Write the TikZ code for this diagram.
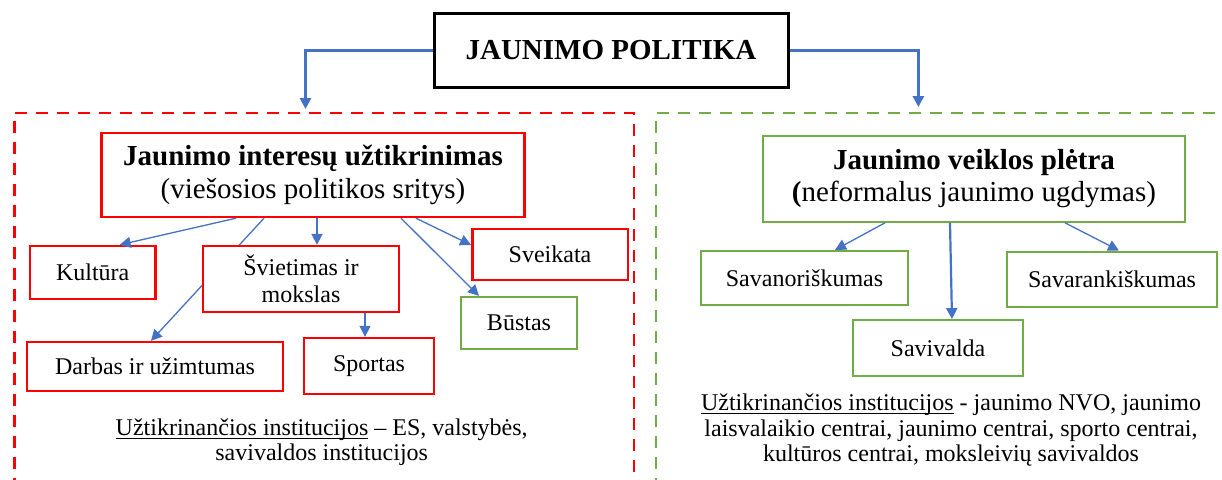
\documentclass[tikz,border=0pt]{standalone}
\usepackage{fontspec}
\setmainfont{Liberation Serif}
\usetikzlibrary{arrows.meta}
\definecolor{PolicyRed}{HTML}{FF0000}
\definecolor{PolicyGreen}{HTML}{70AD47}
\definecolor{PolicyBlue}{HTML}{4472C4}
\newcommand\instline[1]{\setbox0\hbox{#1}\rlap{\rule[-1.6pt]{\wd0}{.45pt}}\box0\relax}

\begin{document}
\begin{tikzpicture}[x=.5pt,y=-.5pt,
  redbox/.style={draw=PolicyRed,line width=1.2pt,fill=white,align=center,inner sep=0pt,font=\fontsize{12}{13.25}\selectfont},
  greenbox/.style={redbox,draw=PolicyGreen,line width=1.1pt},
  headfont/.style={font=\fontsize{14.5}{16.5}\selectfont},
  link/.style={PolicyBlue,line width=.65pt,-{Triangle[length=5.5pt,width=5.5pt]}},
  biglink/.style={link,line width=1.1pt},
  frame/.style={line width=1.2pt,dash pattern=on 6pt off 4.5pt}]
  \useasboundingbox (0,0) rectangle (1222,479);
  \node[draw,line width=1.5pt,minimum width=177pt,minimum height=37pt,font=\fontsize{14.5}{16}\selectfont\bfseries] (title) at (611,50) {JAUNIMO POLITIKA};
  \draw[frame,PolicyRed] (14.5,490)--(14.5,112.7)--(634,112.7)--(634,490);
  \draw[frame,PolicyGreen,line width=1.1pt] (655.6,490)--(655.6,113)--(1230,113);
  \coordinate (lefttip) at (305.5,109); \coordinate (righttip) at (918.4,107);
  \draw[biglink,line width=1.5pt] (title.west) -| (lefttip); \draw[biglink,line width=1.5pt] (title.east) -| (righttip);
  \node[redbox,headfont,minimum width=211.5pt,minimum height=42pt] (interests) at (313,175) {\textbf{Jaunimo interesų užtikrinimas}\\(viešosios politikos sritys)};
  \node[redbox,minimum width=128pt,minimum height=24.5pt] (work) at (155,366.5) {Darbas ir užimtumas};
  \draw[link] ([xshift=-24.5pt]interests.south) -- ([xshift=-2pt]work.north);
  \node[redbox,minimum width=98pt,minimum height=33pt] (education) at (301,279) {Švietimas ir\\mokslas};
  \node[redbox,minimum width=62.75pt,minimum height=26.5pt] (culture) at (92.7,272.5) {Kultūra};
  \node[redbox,minimum width=65.25pt,minimum height=28pt] (sports) at (369,366) {Sportas};
  \node[redbox,minimum width=77.7pt,minimum height=25.5pt] (health) at (550,254.5) {Sveikata};
  \node[greenbox,minimum width=58pt,minimum height=26pt] (housing) at (519,323) {Būstas};
  \draw[link] ([xshift=-38.5pt]interests.south) -- ([xshift=13.5pt]culture.north);
  \draw[biglink,line width=.9pt] ([xshift=2pt]interests.south) -- ([xshift=8pt]education.north);
  \draw[link] ([xshift=44pt]interests.south) -- ([xshift=-20pt]housing.north);
  \draw[link] ([xshift=51.5pt]interests.south) -- ([yshift=4.75pt]health.west);
  \draw[link] ([xshift=32pt]education.south) -- ([xshift=-2pt]sports.north);
  \node[font=\fontsize{12}{12.5}\selectfont,align=center] (leftinst) at (321.7,442.5) {\instline{Užtikrinančios institucijos} – ES, valstybės,\\savivaldos institucijos};
  \node[greenbox,headfont,minimum width=211.35pt,minimum height=43pt,font=\fontsize{14.5}{16}\selectfont] (activity) at (974,178.7) {\textbf{Jaunimo veiklos plėtra}\\\textbf{(}neformalus jaunimo ugdymas)};
  \node[greenbox,minimum width=103.5pt,minimum height=27pt] (volunteer) at (804.5,278) {Savanoriškumas};
  \node[greenbox,minimum width=104.75pt,minimum height=27.7pt] (autonomy) at (1112,279.3) {Savarankiškumas};
  \node[greenbox,minimum width=85.35pt,minimum height=27.85pt] (selfgov) at (938,348) {Savivalda};
  \draw[link] ([xshift=-44.5pt]activity.south) -- ([xshift=15.25pt]volunteer.north);
  \draw[biglink] ([xshift=-12pt]activity.south) -- ([xshift=7pt]selfgov.north);
  \draw[link] ([xshift=45.5pt]activity.south) -- ([xshift=3.5pt]autonomy.north);
  \node[font=\fontsize{12}{12.75}\selectfont,align=center] (rightinst) at (951,430) {\instline{Užtikrinančios institucijos} - jaunimo NVO, jaunimo\\laisvalaikio centrai, jaunimo centrai, sporto centrai,\\kultūros centrai, moksleivių savivaldos};
\end{tikzpicture}
\end{document}
